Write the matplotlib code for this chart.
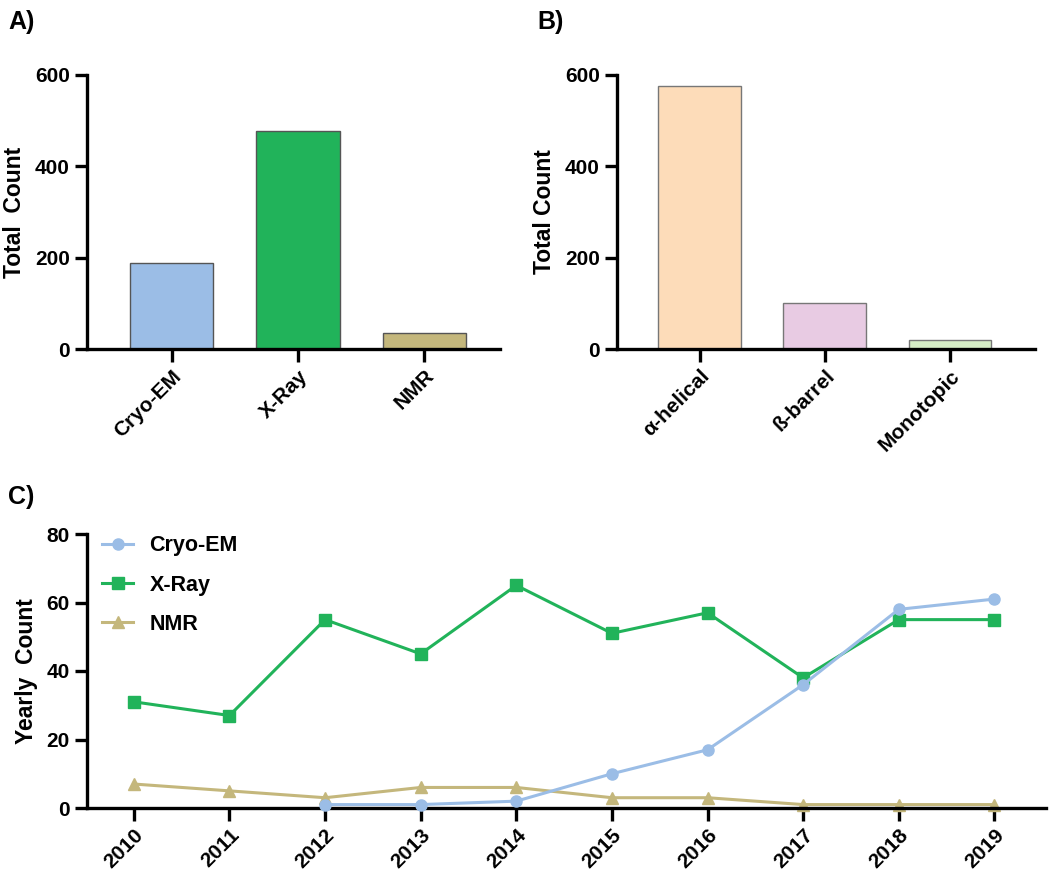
import matplotlib
matplotlib.use("Agg")
import matplotlib.pyplot as plt
import numpy as np

plt.rcParams['font.family'] = ['Liberation Sans', 'DejaVu Sans']
plt.rcParams['font.weight'] = 'bold'

# Panel A data
methods = ["Cryo-EM", "X-Ray", "NMR"]
method_totals = [188, 477, 35]
method_colors = ["#9bbde6", "#21b35a", "#c4b77c"]

# Panel B data
topologies = ["α-helical", "ß-barrel", "Monotopic"]
topology_totals = [576, 101, 20]
topology_colors = ["#fddcb9", "#e8cbe3", "#d5edc5"]

# Panel C data
years = [2010, 2011, 2012, 2013, 2014, 2015, 2016, 2017, 2018, 2019]
cryo_years = [2012, 2013, 2014, 2015, 2016, 2017, 2018, 2019]
cryo_counts = [1, 1, 2, 10, 17, 36, 58, 61]
xray_counts = [31, 27, 55, 45, 65, 51, 57, 38, 55, 55]
nmr_counts = [7, 5, 3, 6, 6, 3, 3, 1, 1, 1]

W, H = 1050, 876
fig = plt.figure(figsize=(W / 100, H / 100), dpi=100)

def style(ax):
    for s in ["top", "right"]:
        ax.spines[s].set_visible(False)
    for s in ["left", "bottom"]:
        ax.spines[s].set_linewidth(2.4)
    ax.tick_params(axis="both", width=2.4, length=9, labelsize=15)
    for lab in ax.get_yticklabels() + ax.get_xticklabels():
        lab.set_fontweight("bold")

def fr(x0, y0, x1, y1):
    return [x0 / W, 1 - y1 / H, (x1 - x0) / W, (y1 - y0) / H]

# Panel A
axA = fig.add_axes(fr(87, 75, 500, 349))
xa = np.arange(len(methods))
axA.bar(xa, method_totals, width=0.66, color=method_colors, edgecolor="#555555", linewidth=1.0)
axA.set_xlim(-0.67, 2.6)
axA.set_ylim(0, 600)
axA.set_yticks([0, 200, 400, 600])
axA.set_xticks(xa)
axA.set_xticklabels(methods, rotation=45, ha="right", rotation_mode="anchor")
axA.set_ylabel("Total  Count", fontsize=16.5, fontweight="bold", labelpad=6)
style(axA)

# Panel B
axB = fig.add_axes(fr(617, 75, 1035, 349))
xb = np.arange(len(topologies))
axB.bar(xb, topology_totals, width=0.66, color=topology_colors, edgecolor="#777777", linewidth=1.0)
axB.set_xlim(-0.66, 2.68)
axB.set_ylim(0, 600)
axB.set_yticks([0, 200, 400, 600])
axB.set_xticks(xb)
axB.set_xticklabels(topologies, rotation=45, ha="right", rotation_mode="anchor")
axB.set_ylabel("Total Count", fontsize=16.5, fontweight="bold", labelpad=6)
style(axB)

# Panel C
axC = fig.add_axes(fr(87, 534, 1046, 808))
axC.plot(cryo_years, cryo_counts, "-o", color="#9bbde6", lw=2.2, ms=8, label="Cryo-EM", clip_on=False, zorder=3)
axC.plot(years, xray_counts, "-s", color="#21b35a", lw=2.2, ms=8, label="X-Ray", clip_on=False, zorder=2)
axC.plot(years, nmr_counts, "-^", color="#c4b77c", lw=2.2, ms=8, label="NMR", clip_on=False, zorder=2)
axC.set_xlim(2009.51, 2019.54)
axC.set_ylim(0, 80)
axC.set_yticks([0, 20, 40, 60, 80])
axC.set_xticks(years)
axC.set_xticklabels([str(y) for y in years], rotation=45, ha="right", rotation_mode="anchor")
axC.set_ylabel("Yearly  Count", fontsize=16.5, fontweight="bold", labelpad=6)
style(axC)
leg = axC.legend(loc="upper left", bbox_to_anchor=(0.0, 1.05), frameon=False, fontsize=15.5,
                 handlelength=1.45, labelspacing=0.85, handletextpad=0.75, borderaxespad=0.3)
for t in leg.get_texts():
    t.set_fontweight("bold")

fig.text(8 / W, 1 - 22 / H, "A)", fontsize=18, fontweight="bold", va="center", ha="left")
fig.text(537 / W, 1 - 22 / H, "B)", fontsize=18, fontweight="bold", va="center", ha="left")
fig.text(8 / W, 1 - 497 / H, "C)", fontsize=18, fontweight="bold", va="center", ha="left")

fig.savefig("out.png", dpi=100)
